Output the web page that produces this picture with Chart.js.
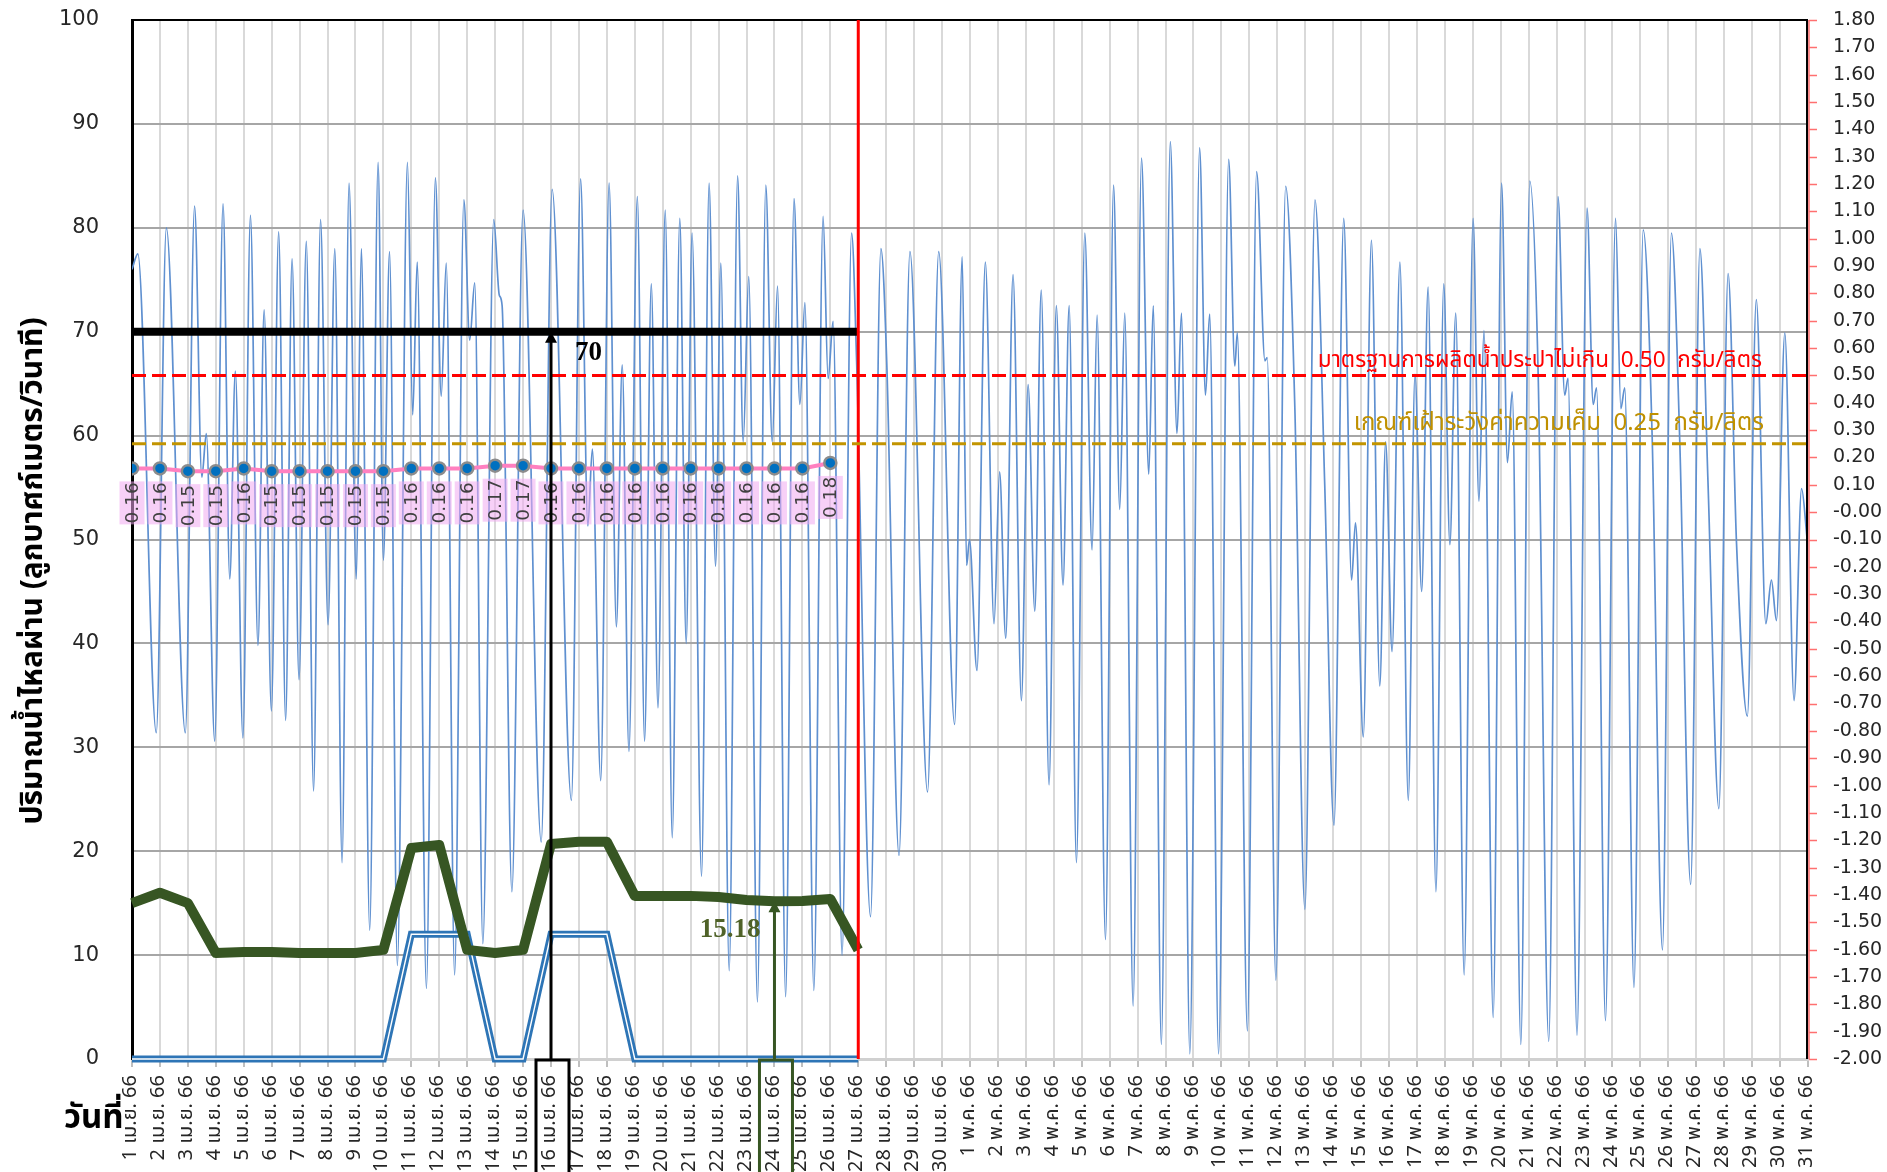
<!DOCTYPE html>
<html><head><meta charset="utf-8">
<script src="https://cdn.jsdelivr.net/npm/chart.js@4.4.1/dist/chart.umd.min.js"></script>
<style>html,body{margin:0;padding:0;background:#fff;overflow:hidden}</style>
</head><body>
<canvas id="c" width="1887" height="1172" style="display:block"></canvas>
<script>
// ---------- DATA ----------
const dateLabels = [
'1 เม.ย. 66','2 เม.ย. 66','3 เม.ย. 66','4 เม.ย. 66','5 เม.ย. 66','6 เม.ย. 66','7 เม.ย. 66','8 เม.ย. 66','9 เม.ย. 66','10 เม.ย. 66',
'11 เม.ย. 66','12 เม.ย. 66','13 เม.ย. 66','14 เม.ย. 66','15 เม.ย. 66','16 เม.ย. 66','17 เม.ย. 66','18 เม.ย. 66','19 เม.ย. 66','20 เม.ย. 66',
'21 เม.ย. 66','22 เม.ย. 66','23 เม.ย. 66','24 เม.ย. 66','25 เม.ย. 66','26 เม.ย. 66','27 เม.ย. 66','28 เม.ย. 66','29 เม.ย. 66','30 เม.ย. 66',
'1 พ.ค. 66','2 พ.ค. 66','3 พ.ค. 66','4 พ.ค. 66','5 พ.ค. 66','6 พ.ค. 66','7 พ.ค. 66','8 พ.ค. 66','9 พ.ค. 66','10 พ.ค. 66',
'11 พ.ค. 66','12 พ.ค. 66','13 พ.ค. 66','14 พ.ค. 66','15 พ.ค. 66','16 พ.ค. 66','17 พ.ค. 66','18 พ.ค. 66','19 พ.ค. 66','20 พ.ค. 66',
'21 พ.ค. 66','22 พ.ค. 66','23 พ.ค. 66','24 พ.ค. 66','25 พ.ค. 66','26 พ.ค. 66','27 พ.ค. 66','28 พ.ค. 66','29 พ.ค. 66','30 พ.ค. 66',
'31 พ.ค. 66'];

// daily series (index = day from 1 เม.ย.)
const salinity   = [0.16,0.16,0.15,0.15,0.16,0.15,0.15,0.15,0.15,0.15,0.16,0.16,0.16,0.17,0.17,0.16,0.16,0.16,0.16,0.16,0.16,0.16,0.16,0.16,0.16,0.18];
const greenFlow  = [15.0,16.0,15.0,10.2,10.3,10.3,10.2,10.2,10.2,10.5,20.3,20.6,10.5,10.2,10.5,20.7,20.9,20.9,15.7,15.7,15.7,15.6,15.3,15.18,15.2,15.4,10.5];
const blueFlow   = [0,0,0,0,0,0,0,0,0,0,12,12,12,0,0,12,12,12,0,0,0,0,0,0,0,0,0];
const flowLimit  = [70,70,70,70,70,70,70,70,70,70,70,70,70,70,70,70,70,70,70,70,70,70,70,70,70,70,70];

// tidal flow (day position, value)
const tideDay = [
0,0.21,0.87,1.23,1.91,2.24,2.50,2.66,2.96,3.26,3.50,3.70,3.97,4.24,4.51,4.73,4.99,
5.25,5.50,5.73,5.98,6.24,6.50,6.75,7.02,7.26,7.52,7.77,8.03,8.21,8.51,8.81,9.00,9.22,9.50,9.86,
10.05,10.21,10.54,10.86,11.07,11.25,11.55,11.88,12.09,12.27,12.56,12.95,13.15,13.25,13.60,14.00,14.65,
15.04,15.73,16.06,16.32,16.48,16.78,17.08,17.34,17.55,17.79,18.09,18.35,18.59,18.83,19.09,19.34,19.61,19.84,
20.05,20.39,20.66,20.89,21.08,21.38,21.68,21.88,22.08,22.39,22.69,22.92,23.11,23.40,23.70,23.91,24.09,24.41,24.74,24.92,
25.10,25.42,25.76,25.94,26.44,26.81,27.02,27.46,27.85,28.48,28.88,29.45,29.72,29.88,29.98,
30.25,30.55,30.86,31.06,31.28,31.54,31.84,32.08,32.32,32.55,32.83,33.09,33.33,33.55,33.81,34.11,34.37,34.55,34.85,
35.14,35.36,35.54,35.84,36.14,36.40,36.56,36.85,37.17,37.41,37.57,37.87,38.22,38.43,38.58,38.90,39.26,39.48,39.57,39.93,
40.26,40.56,40.64,40.95,41.30,41.63,41.99,42.35,42.70,43.03,43.38,43.66,43.80,44.08,44.37,44.67,44.88,
45.11,45.39,45.69,45.93,46.17,46.40,46.68,46.96,47.18,47.39,47.69,48.01,48.22,48.40,48.73,49.03,49.24,49.41,49.72,
50.04,50.34,50.72,51.05,51.29,51.41,51.73,52.09,52.31,52.43,52.75,53.11,53.30,53.44,53.77,54.10,54.42,54.79,
55.11,55.41,55.80,56.13,56.42,56.81,57.14,57.44,57.83,58.15,58.49,58.69,58.87,59.17,59.50,59.77,59.97];
const tideFlow = [
76,77.5,31.4,80.0,31.4,82.1,56,60.2,30.6,82.3,46.2,66.2,30.9,81.2,39.8,72.1,33.5,
79.6,32.6,77.0,36.5,78.7,25.8,80.8,41.8,78.0,18.9,84.3,46.2,78.0,12.4,86.3,48,77.7,9.0,86.3,
62,76.7,6.8,84.8,63.8,76.6,8.1,82.7,69.2,74.7,11.1,80.8,73.5,72.5,16.1,81.7,20.9,
83.7,24.9,84.7,51.3,58.7,26.8,84.3,41.6,66.8,29.6,83.0,30.6,74.6,33.8,81.7,21.3,80.9,40.0,
79.5,17.6,84.3,47.4,76.6,8.5,85.0,59.4,75.3,5.5,84.1,59.4,74.4,6.0,82.8,63.0,72.8,6.6,81.1,65.5,
71.0,10.0,79.5,67.2,13.7,78.0,67.0,19.6,77.7,25.7,77.7,32.2,77.2,47.5,50.0,
37.4,76.7,41.9,56.5,40.5,75.5,34.5,64.9,43.1,74.0,26.4,72.5,45.6,72.5,18.9,79.5,49.0,71.6,11.5,
84.1,52.9,71.8,5.1,86.7,56.3,72.5,1.4,88.3,60.2,71.8,0.5,87.7,63.9,71.7,0.5,86.6,66.7,69.9,2.7,
85.4,67.2,67.5,7.6,84.0,62.6,14.4,82.7,55.2,22.5,80.9,46.1,51.6,31.0,78.8,35.9,59.4,
39.2,76.7,24.9,65.9,45.0,74.3,16.1,74.6,49.5,71.8,8.1,80.9,53.7,70.1,4.0,84.3,57.4,64.2,1.4,
84.5,65.9,1.7,83.0,63.9,65.5,2.3,81.9,63.0,64.6,3.7,80.9,62.6,64.6,6.9,79.8,60,10.5,
79.5,59.4,16.8,78.0,55.5,24.1,75.6,49.7,33.0,73.1,41.9,46.1,42.2,69.9,34.5,54.9,50.0];

// thresholds and annotations
const standardLimit = 0.50;
const watchLimit = 0.25;
const standardText = 'มาตรฐานการผลิตน้ำประปาไม่เกิน  0.50  กรัม/ลิตร';
const watchText = 'เกณฑ์เฝ้าระวังค่าความเค็ม  0.25  กรัม/ลิตร';
const currentDay = 26;
const blackArrow = {day: 15, value: 70, text: '70'};
const greenArrow = {day: 23, value: 15.18, text: '15.18'};
const yTitle = 'ปริมาณน้ำไหลผ่าน (ลูกบาศก์เมตร/วินาที)';
const xTitle = 'วันที่';

// ---------- CHART ----------
const FONT_NUM = "'DejaVu Sans', Verdana, sans-serif";
const FONT_TH = "Tahoma, 'Noto Sans Thai', 'Noto Sans', sans-serif";
const toXY = arr => arr.map((v,i)=>({x:i,y:v}));

const overlay = {
  id:'overlay',
  afterDatasetsDraw(chart){
    const {ctx, chartArea:a, scales:{x,y,y2}} = chart;
    ctx.save();
    // right frame + red tick marks of the right axis
    ctx.strokeStyle='#000'; ctx.lineWidth=2;
    ctx.beginPath(); ctx.moveTo(a.right-1,a.top); ctx.lineTo(a.right-1,a.bottom); ctx.stroke();
    ctx.strokeStyle='#ff7070'; ctx.lineWidth=1.5;
    ctx.beginPath(); ctx.moveTo(a.right+1,a.top); ctx.lineTo(a.right+1,a.bottom);
    y2.ticks.forEach(t=>{const py=Math.round(y2.getPixelForValue(t.value))+0.5; ctx.moveTo(a.right+1,py); ctx.lineTo(a.right+9,py);});
    ctx.stroke();
    // red current day line
    const xr = x.getPixelForValue(currentDay);
    ctx.strokeStyle='#ff0000'; ctx.lineWidth=3;
    ctx.beginPath(); ctx.moveTo(xr,a.top); ctx.lineTo(xr,a.bottom); ctx.stroke();
    // threshold dashed lines
    const dash=(val,color)=>{const py=y2.getPixelForValue(val);ctx.save();ctx.setLineDash([14,6]);ctx.strokeStyle=color;ctx.lineWidth=3;ctx.beginPath();ctx.moveTo(a.left,py);ctx.lineTo(a.right,py);ctx.stroke();ctx.restore();return py;};
    const pR = dash(standardLimit,'#ff0000');
    const pG = dash(watchLimit,'#c29400');
    ctx.textAlign='right'; ctx.textBaseline='alphabetic';
    ctx.font = '22.5px '+FONT_TH; ctx.fillStyle='#ff0000'; ctx.fillText(standardText, a.right-46, pR-8);
    ctx.font = '24px '+FONT_TH; ctx.fillStyle='#bf9000'; ctx.fillText(watchText, a.right-44, pG-14);

    // salinity labels
    const meta = chart.getDatasetMeta(0);
    meta.data.forEach((pt,i)=>{
      const px=pt.x, py=pt.y;
      ctx.fillStyle='rgba(240,170,240,0.55)';
      ctx.fillRect(px-12.5, py+13, 25, 43);
      ctx.save(); ctx.translate(px, py+34.5); ctx.rotate(-Math.PI/2);
      ctx.fillStyle='#404040'; ctx.font='18.5px '+FONT_NUM; ctx.textAlign='center'; ctx.textBaseline='middle';
      ctx.fillText(salinity[i].toFixed(2), 0, 1); ctx.restore();
    });

    // arrows with label boxes
    const arrow=(ar,color,lw,textColor,textLeft)=>{
      const ax=x.getPixelForValue(ar.day), y0=y.getPixelForValue(0), y1=y.getPixelForValue(ar.value);
      ctx.strokeStyle=color; ctx.fillStyle=color; ctx.lineWidth=lw;
      ctx.beginPath(); ctx.moveTo(ax,y0+2); ctx.lineTo(ax,y1+9); ctx.stroke();
      ctx.beginPath(); ctx.moveTo(ax,y1); ctx.lineTo(ax-6,y1+11); ctx.lineTo(ax+6,y1+11); ctx.closePath(); ctx.fill();
      const xl=ax-15, xrr=ax+18;
      ctx.lineWidth=3;
      ctx.beginPath(); ctx.moveTo(xl,chart.height); ctx.lineTo(xl,y0+1); ctx.lineTo(xrr,y0+1); ctx.lineTo(xrr,chart.height); ctx.stroke();
      ctx.font='bold 27px "Liberation Serif", "Times New Roman", serif'; ctx.fillStyle=textColor; ctx.textBaseline='middle';
      if(textLeft){ctx.textAlign='right'; ctx.fillText(ar.text, ax-14, y1+29);}
      else {ctx.textAlign='left'; ctx.fillText(ar.text, ax+24, y1+21);}
    };
    arrow(blackArrow,'#000',3,'#000',false);
    arrow(greenArrow,'#375623',3,'#4f6228',true);

    // titles
    ctx.fillStyle='#000'; ctx.font='bold 30px '+FONT_TH; ctx.textAlign='center'; ctx.textBaseline='middle';
    ctx.save(); ctx.translate(36, 571); ctx.rotate(-Math.PI/2); ctx.fillText(yTitle,0,0); ctx.restore();
    ctx.font='bold 33px '+FONT_TH; ctx.textAlign='left';
    ctx.fillText(xTitle, 64, 1121);
    ctx.restore();
  }
};

new Chart(document.getElementById('c'), {
  type:'line',
  data:{datasets:[
    {label:'ค่าความเค็ม', data:toXY(salinity), yAxisID:'y2', borderColor:'#ff80c0', borderWidth:4,
      pointRadius:6, pointBackgroundColor:'#0070c0', pointBorderColor:'#8c8c8c', pointBorderWidth:2.5, order:1},
    {label:'70', data:toXY(flowLimit), yAxisID:'y', borderColor:'#000', borderWidth:8, pointRadius:0, order:2, borderCapStyle:'butt'},
    {label:'green', data:toXY(greenFlow), yAxisID:'y', borderColor:'#375623', borderWidth:10, pointRadius:0, order:3, borderJoinStyle:'round', clip:10},
    {label:'blue-inner', data:toXY(blueFlow), yAxisID:'y', borderColor:'#ffffff', borderWidth:1.4, pointRadius:0, order:4, clip:10},
    {label:'blue', data:toXY(blueFlow), yAxisID:'y', borderColor:'#2e75b6', borderWidth:7, pointRadius:0, order:5, clip:10},
    {label:'tide', data:tideDay.map((d,i)=>({x:d,y:tideFlow[i]})), yAxisID:'y', borderColor:'#5f90d0', borderWidth:1.7,
      pointRadius:0, cubicInterpolationMode:'monotone', order:6}
  ]},
  options:{
    responsive:false, animation:false, devicePixelRatio:1,
    layout:{padding:{top:20,left:0,right:0,bottom:0}},
    plugins:{legend:{display:false}, tooltip:{enabled:false}},
    scales:{
      x:{type:'linear', min:0, max:60, afterFit(s){s.height=113;},
        ticks:{stepSize:1, autoSkip:false, maxRotation:90, minRotation:90, callback:v=>dateLabels[v],
          font:{size:20, family:FONT_TH}, color:'#262626', padding:8},
        grid:{color:c=>(c.tick&&c.tick.value===0)?'rgba(0,0,0,0)':'#d9d9d9', lineWidth:2, tickLength:8, tickColor:'#bfbfbf'},
        border:{color:'#d0d0d0', width:3}},
      y:{position:'left', min:0, max:100, afterFit(s){s.width=132;},
        ticks:{stepSize:10, font:{size:21, family:FONT_NUM}, color:'#262626', padding:3},
        grid:{color:c=>(c.tick&&c.tick.value===100)?'#000':'#a6a6a6', lineWidth:2, drawTicks:true, tickLength:30, tickColor:'rgba(0,0,0,0)'},
        border:{color:'#000', width:3}},
      y2:{position:'right', min:-2, max:1.8, afterFit(s){s.width=79;},
        ticks:{stepSize:0.1, autoSkip:false, callback:v=>Number(v).toFixed(2), font:{size:19, family:FONT_NUM}, color:'#262626', padding:8},
        grid:{drawOnChartArea:false, drawTicks:true, tickLength:17, tickColor:'rgba(0,0,0,0)'},
        border:{display:false}}
    }
  },
  plugins:[overlay]
});
</script>
</body></html>
